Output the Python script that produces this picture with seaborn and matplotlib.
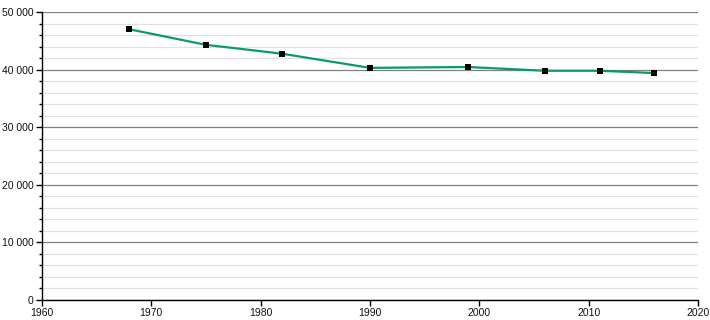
import matplotlib
matplotlib.use("Agg")
import matplotlib.pyplot as plt
import seaborn as sns
import pandas as pd
from matplotlib.ticker import MultipleLocator, FuncFormatter

years = [1968, 1975, 1982, 1990, 1999, 2006, 2011, 2016]
population = [47000, 44300, 42750, 40300, 40450, 39800, 39800, 39400]

df = pd.DataFrame({"year": years, "population": population})

sns.set_style("white")
plt.rcParams['font.family'] = ['Liberation Sans', 'DejaVu Sans']

fig = plt.figure(figsize=(7.1, 3.2), dpi=100)
ax = fig.add_axes([0.059, 0.0625, 0.924, 0.9])

sns.lineplot(data=df, x="year", y="population", ax=ax, color="#0a9a6a", linewidth=1.6, zorder=3)
ax.scatter(df["year"], df["population"], marker="s", s=14, color="black", zorder=4, linewidths=0)

ax.set_xlim(1960, 2020)
ax.set_ylim(0, 50000)
ax.xaxis.set_major_locator(MultipleLocator(10))
ax.yaxis.set_major_locator(MultipleLocator(10000))
ax.yaxis.set_minor_locator(MultipleLocator(2000))
ax.yaxis.set_major_formatter(FuncFormatter(lambda v, p: f"{int(v):,}".replace(",", " ")))

ax.grid(which="major", axis="y", color="#808080", linewidth=0.9)
ax.grid(which="minor", axis="y", color="#e0e0e0", linewidth=0.9)
ax.set_axisbelow(True)

for s in ["top", "right"]:
    ax.spines[s].set_visible(False)
for s in ["left", "bottom"]:
    ax.spines[s].set_color("black")
    ax.spines[s].set_linewidth(1)

ax.tick_params(axis="both", which="major", direction="out", length=4, width=1, color="black",
               labelcolor="#111111", labelsize=7.5, pad=2, left=True, bottom=True)
ax.tick_params(axis="y", which="minor", direction="out", length=2.5, width=1, color="black", left=True)
ax.set_xlabel("")
ax.set_ylabel("")

fig.savefig("out.png", dpi=100)
